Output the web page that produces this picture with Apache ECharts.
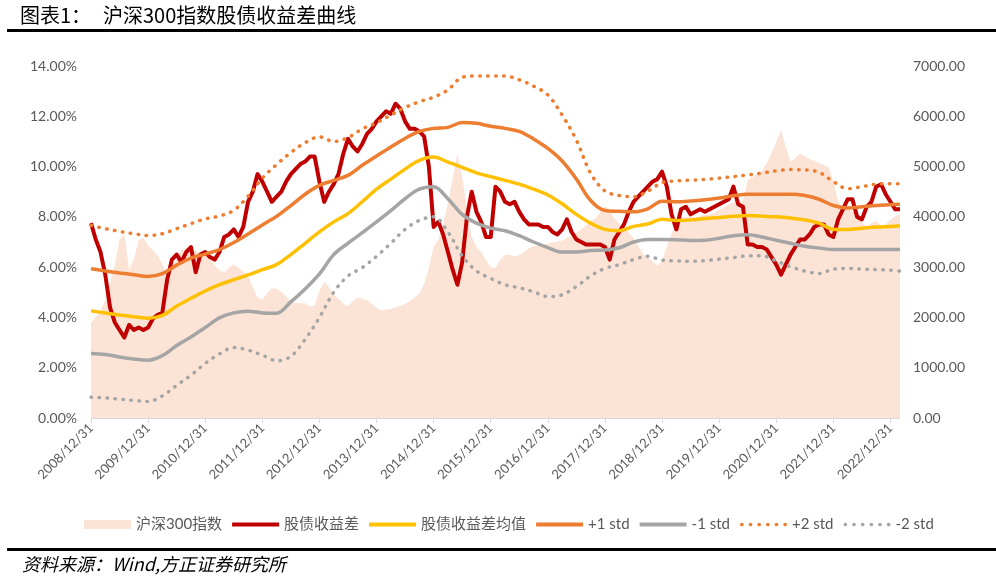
<!DOCTYPE html>
<html><head><meta charset="utf-8">
<script src="https://cdn.jsdelivr.net/npm/echarts@6/dist/echarts.min.js"></script>
<style>html,body{margin:0;padding:0;background:#fff}#c{width:996px;height:581px}</style>
</head><body><div id="c"></div>
<script>
// x positions are month offsets from 2008/12/31
const yearTicks = [0,12,24,36,48,60,72,84,96,108,120,132,144,156,168];
const yearLabels = ['2008/12/31','2009/12/31','2010/12/31','2011/12/31','2012/12/31','2013/12/31','2014/12/31','2015/12/31','2016/12/31','2017/12/31','2018/12/31','2019/12/31','2020/12/31','2021/12/31','2022/12/31'];

// 沪深300指数 (monthly)
const hs300 = [
1880,2010,2130,2350,2670,3050,3550,3660,2960,3140,
3540,3580,3440,3330,3240,3060,2810,2950,3170,3340,
3370,3380,3320,3280,3360,3230,3030,2940,2900,2990,
3060,2990,2920,2820,2610,2390,2350,2480,2580,2570,
2510,2420,2320,2280,2280,2280,2210,2240,2530,2710,
2600,2460,2370,2270,2220,2320,2400,2370,2340,2270,
2190,2140,2160,2170,2200,2230,2270,2320,2400,2470,
2670,2990,3410,3550,3860,4280,4760,5260,4780,4180,
3610,3400,3290,3140,3000,2990,3150,3240,3250,3210,
3240,3300,3370,3410,3430,3450,3470,3490,3510,3530,
3580,3630,3690,3750,3830,3900,3970,4090,4210,4130,
3960,3870,3780,3690,3570,3420,3260,3190,3110,3030,
3120,3410,3660,3910,3990,3990,3990,3990,4010,4040,
4050,4080,4140,4190,4250,4280,4300,4320,4730,4790,
4850,4910,5070,5270,5490,5730,5400,5090,5170,5260,
5210,5150,5110,5070,5030,4990,4700,4320,4160,4140,
4120,4010,3890,3790,3880,3920,3830,3850,3940,4010,
4060];

// 股债收益差 (%) monthly
const spread = [
7.75,7.1,6.6,5.7,4.4,3.8,3.5,3.2,3.7,3.5,
3.6,3.5,3.6,3.95,4.1,4.2,5.5,6.3,6.5,6.2,
6.6,6.8,5.8,6.5,6.6,6.4,6.3,6.6,7.2,7.3,
7.5,7.2,7.6,8.6,9.0,9.7,9.4,9.0,8.6,8.8,
9.0,9.4,9.7,9.9,10.1,10.2,10.4,10.4,9.4,8.6,
9.0,9.3,9.7,10.5,11.1,10.8,10.6,10.9,11.3,11.5,
11.8,12.0,12.2,12.1,12.5,12.3,11.8,11.5,11.5,11.4,
11.2,10.0,7.6,7.8,7.3,6.6,5.9,5.3,6.2,8.0,
9.0,8.2,7.8,7.2,7.2,9.2,9.0,8.6,8.5,8.6,
8.2,7.9,7.7,7.7,7.7,7.6,7.6,7.4,7.3,7.5,
7.9,7.4,7.1,7.0,6.9,6.9,6.9,6.9,6.8,6.3,
7.1,7.4,7.7,8.2,8.6,8.8,9.0,9.2,9.4,9.5,
9.8,9.2,8.1,7.5,8.3,8.4,8.1,8.2,8.3,8.2,
8.3,8.4,8.5,8.6,8.7,9.2,8.5,8.4,6.9,6.9,
6.8,6.8,6.7,6.4,6.1,5.7,6.1,6.5,6.8,7.1,
7.1,7.3,7.6,7.7,7.7,7.3,7.2,7.9,8.3,8.7,
8.7,8.0,7.9,8.4,8.6,9.2,9.3,8.9,8.6,8.3,
8.3];

// quarterly sampled bands
const qMonths = [0,3,6,9,12,15,18,21,24,27,30,33,36,39,42,45,48,51,54,57,60,63,66,69,72,75,78,81,84,87,90,93,96,99,102,105,108,111,114,117,120,123,126,129,132,135,138,141,144,147,150,153,156,159,162,165,168,170];
const meanLine = [
4.26,4.18,4.1,4.03,3.97,4.08,4.45,4.76,5.05,5.3,
5.5,5.69,5.9,6.1,6.5,6.95,7.4,7.8,8.13,8.6,
9.1,9.5,9.9,10.25,10.38,10.18,9.97,9.75,9.6,9.45,
9.3,9.1,8.87,8.52,8.1,7.75,7.5,7.45,7.62,7.72,
7.9,7.86,7.88,7.93,7.97,8.02,8.05,8.03,8.0,7.95,
7.88,7.75,7.5,7.5,7.55,7.6,7.62,7.65];
const plus1 = [
5.94,5.85,5.77,5.7,5.63,5.74,6.08,6.36,6.52,6.7,
6.98,7.32,7.68,8.02,8.45,8.9,9.25,9.45,9.65,10.05,
10.42,10.78,11.12,11.4,11.52,11.56,11.75,11.72,11.6,11.52,
11.4,11.1,10.72,10.22,9.5,8.65,8.25,8.22,8.2,8.32,
8.62,8.6,8.63,8.68,8.75,8.84,8.9,8.9,8.9,8.9,
8.85,8.7,8.45,8.35,8.4,8.45,8.48,8.5];
const minus1 = [
2.57,2.53,2.43,2.35,2.3,2.48,2.88,3.22,3.6,3.98,
4.18,4.25,4.18,4.17,4.62,5.13,5.73,6.5,6.95,7.37,
7.8,8.25,8.72,9.1,9.2,8.72,8.1,7.75,7.55,7.45,
7.25,7.0,6.78,6.6,6.6,6.66,6.68,6.77,7.0,7.1,
7.1,7.09,7.06,7.07,7.15,7.25,7.29,7.2,7.07,6.95,
6.83,6.76,6.7,6.7,6.7,6.7,6.7,6.7];
const plus2 = [
7.66,7.53,7.42,7.33,7.26,7.33,7.53,7.73,7.92,8.03,
8.26,8.82,9.54,10.08,10.56,10.95,11.18,11.0,11.15,11.5,
11.74,12.05,12.35,12.58,12.76,13.05,13.55,13.6,13.6,13.6,
13.45,13.2,12.85,12.05,11.05,9.73,9.03,8.85,8.8,9.02,
9.36,9.43,9.46,9.49,9.54,9.6,9.67,9.74,9.83,9.88,
9.87,9.77,9.4,9.12,9.2,9.3,9.32,9.32];
const minus2 = [
0.83,0.8,0.75,0.7,0.66,0.88,1.3,1.7,2.17,2.55,
2.8,2.7,2.5,2.28,2.45,3.13,4.0,5.0,5.65,5.98,
6.43,6.95,7.5,7.86,8.0,7.4,6.45,5.85,5.55,5.3,
5.18,5.02,4.83,4.9,5.23,5.65,5.95,6.1,6.3,6.43,
6.28,6.25,6.23,6.26,6.32,6.38,6.45,6.45,6.25,6.02,
5.84,5.75,5.92,5.95,5.92,5.9,5.88,5.84];

const seriesNames = ['沪深300指数','股债收益差','股债收益差均值','+1 std','-1 std','+2 std','-2 std'];

const monthly = arr => arr.map((v,i)=>[i,v]);
const quarterly = arr => arr.map((v,k)=>[qMonths[k],v]);

const FONT = 'Lato, "Noto Sans CJK SC", sans-serif';
const LABEL = '#595959';
const LINE_ICON = 'path://M0,0h47v4h-47z';
const DOT_ICON = 'path://M0,1.8a1.8,1.8 0 1,0 3.6,0a1.8,1.8 0 1,0 -3.6,0z' +
  'M8.4,1.8a1.8,1.8 0 1,0 3.6,0a1.8,1.8 0 1,0 -3.6,0z' +
  'M16.8,1.8a1.8,1.8 0 1,0 3.6,0a1.8,1.8 0 1,0 -3.6,0z' +
  'M25.2,1.8a1.8,1.8 0 1,0 3.6,0a1.8,1.8 0 1,0 -3.6,0z' +
  'M33.6,1.8a1.8,1.8 0 1,0 3.6,0a1.8,1.8 0 1,0 -3.6,0z' +
  'M42,1.8a1.8,1.8 0 1,0 3.6,0a1.8,1.8 0 1,0 -3.6,0z';

const chart = echarts.init(document.getElementById('c'), null, {renderer:'canvas'});

function bandLine(name, data, color, width, dotted){
  return {
    name, type:'line', data: quarterly(data), yAxisIndex:0, symbol:'none', smooth:0.35,
    lineStyle:{color, width, type: dotted ? [0.5,7.5] : 'solid', cap: dotted ? 'round' : 'butt'},
    itemStyle:{color}, emphasis:{disabled:true}, silent:true
  };
}

chart.setOption({
  animation:false,
  backgroundColor:'#fff',
  grid:{left:91, right:96, top:66, bottom:163},
  graphic:[
    {type:'text', left:20, top:5, style:{text:'图表1：', font:'normal 20px "Noto Sans CJK SC"', fill:'#000'}},
    {type:'text', left:103, top:5, style:{text:'沪深300指数股债收益差曲线', font:'normal 20px "Noto Sans CJK SC"', fill:'#000'}},
    {type:'rect', left:7, top:29, shape:{width:989, height:3}, style:{fill:'#000'}},
    {type:'rect', left:7, top:548, shape:{width:989, height:3}, style:{fill:'#000'}},
    {type:'text', left:22, top:555, style:{text:'资料来源：Wind,方正证券研究所', font:'italic 18px "Noto Sans CJK SC"', fill:'#000'}}
  ],
  legend:{
    left:79, top:512, itemWidth:47, itemHeight:9, itemGap:10, symbolKeepAspect:true,
    textStyle:{fontFamily:FONT, fontSize:15, color:LABEL},
    data:[
      {name:'沪深300指数', icon:'rect'},
      {name:'股债收益差', icon:LINE_ICON},
      {name:'股债收益差均值', icon:LINE_ICON},
      {name:'+1 std', icon:LINE_ICON},
      {name:'-1 std', icon:LINE_ICON},
      {name:'+2 std', icon:DOT_ICON},
      {name:'-2 std', icon:DOT_ICON}
    ]
  },
  xAxis:{
    type:'value', min:0, max:170,
    axisLine:{show:true, lineStyle:{color:'#d9d9d9', width:1}},
    axisTick:{show:true, customValues:yearTicks, length:5, lineStyle:{color:'#d9d9d9'}},
    axisLabel:{customValues:yearTicks, rotate:45, margin:8, fontFamily:FONT, fontSize:13, color:LABEL,
      formatter:v => yearLabels[yearTicks.indexOf(v)] || ''},
    splitLine:{show:false}
  },
  yAxis:[
    {type:'value', min:0, max:14, interval:2, position:'left',
     axisLine:{show:false}, axisTick:{show:false}, splitLine:{show:false},
     axisLabel:{formatter:v=>v.toFixed(2)+'%', fontFamily:FONT, fontSize:14, color:LABEL, margin:14}},
    {type:'value', min:0, max:7000, interval:1000, position:'right',
     axisLine:{show:false}, axisTick:{show:false}, splitLine:{show:false},
     axisLabel:{formatter:v=>v.toFixed(2), fontFamily:FONT, fontSize:14, color:LABEL, margin:13}}
  ],
  series:[
    {name:seriesNames[0], type:'line', data:monthly(hs300), yAxisIndex:1, symbol:'none',
     lineStyle:{width:0, color:'#FBE4D6'}, itemStyle:{color:'#FBE4D6'},
     areaStyle:{color:'#FBE4D6', opacity:1}, silent:true, z:1},
    {name:seriesNames[1], type:'line', data:monthly(spread), yAxisIndex:0, symbol:'none',
     lineStyle:{color:'#C00000', width:4, join:'round'}, itemStyle:{color:'#C00000'}, silent:true, z:2},
    bandLine(seriesNames[2], meanLine, '#FFC000', 3.5, false),
    bandLine(seriesNames[3], plus1, '#ED7D31', 3.5, false),
    bandLine(seriesNames[4], minus1, '#A5A5A5', 3.5, false),
    bandLine(seriesNames[5], plus2, '#ED7D31', 3.5, true),
    bandLine(seriesNames[6], minus2, '#A5A5A5', 3.5, true)
  ]
});
</script></body></html>
